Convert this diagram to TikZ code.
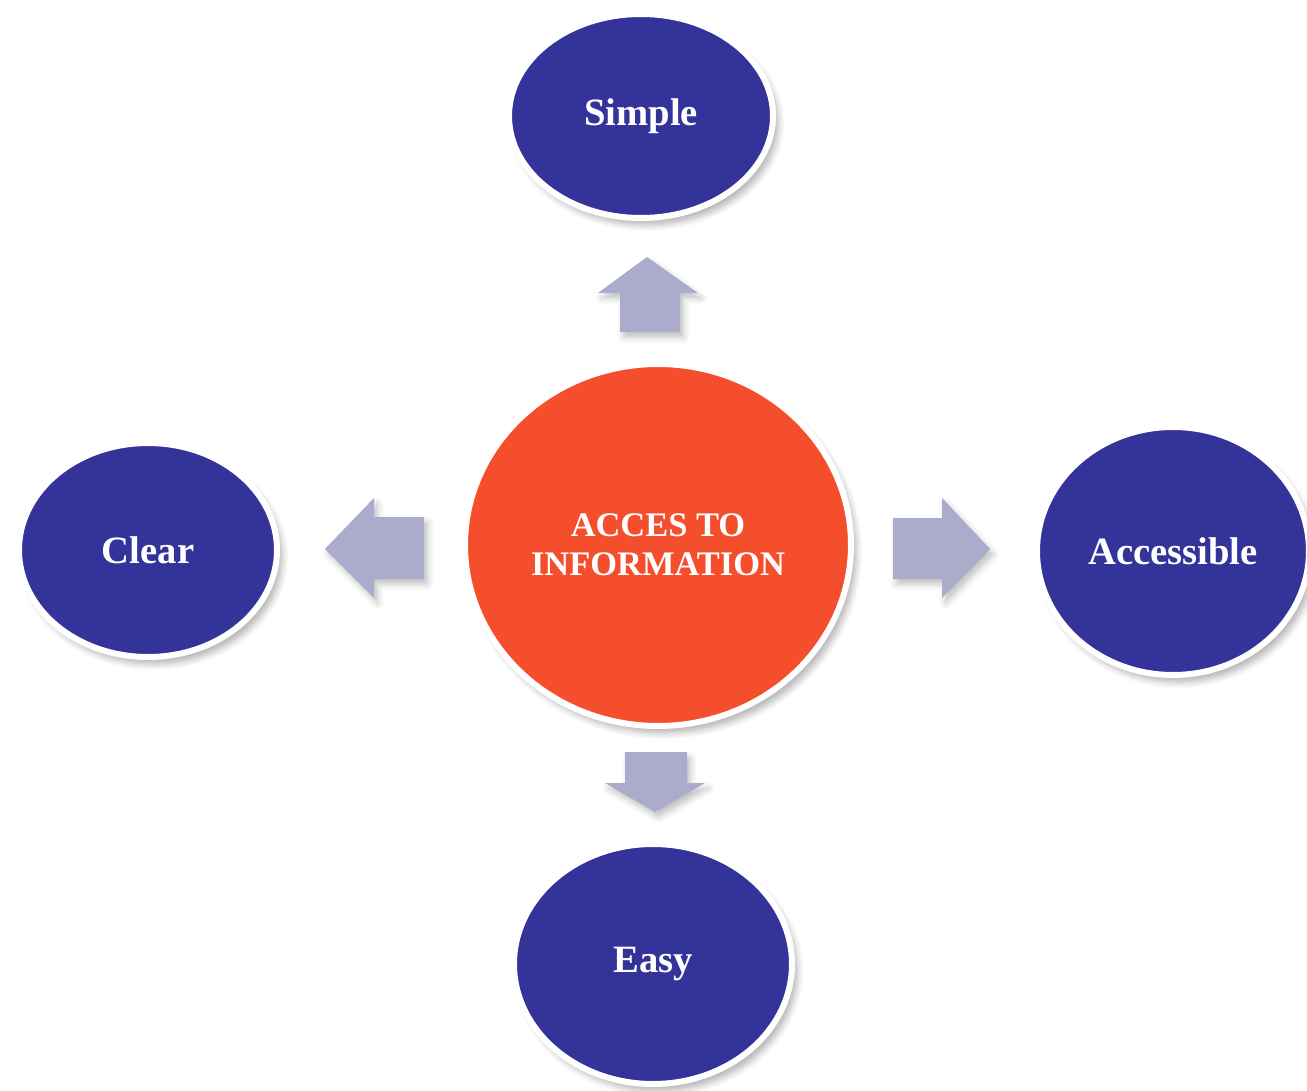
\documentclass[tikz,border=0pt]{standalone}
\usepackage{fontspec}
\setmainfont{Liberation Serif}
\usetikzlibrary{shapes.geometric,shadows.blur}

\definecolor{ovalblue}{HTML}{343399}
\definecolor{hubred}{HTML}{F44E2D}
\definecolor{arrowgrey}{HTML}{ABABCB}

\begin{document}
\begin{tikzpicture}
	\tikzstyle{oval}=[ellipse,inner sep=0pt,fill=ovalblue,draw=white,line width=0.06cm,
		text=white,font=\bfseries\fontsize{11}{13}\selectfont,
		blur shadow={shadow xshift=1.5pt,shadow yshift=-2pt,shadow blur steps=6,shadow opacity=30}]
	\tikzstyle{hub}=[oval,fill=hubred,align=center,font=\bfseries\fontsize{9.8}{11.2}\selectfont]
	\tikzstyle{blockarrow}=[fill=arrowgrey,
		blur shadow={shadow xshift=1pt,shadow yshift=-1.5pt,shadow blur steps=4,shadow opacity=25}]
	\useasboundingbox (0,0) rectangle (13.07,10.90);
	% centre and the four ovals
	\node[hub,minimum width=3.86cm,minimum height=3.62cm](info) at (6.58,5.45) {ACCES TO\\INFORMATION};
	\node[oval,minimum width=2.64cm,minimum height=2.04cm](simple) at (6.41,9.74) {Simple};
	\node[oval,minimum width=2.58cm,minimum height=2.14cm](clear) at (1.48,5.40) {Clear};
	\node[oval,minimum width=2.72cm,minimum height=2.48cm](accessible) at (11.73,5.39) {Accessible};
	\node[oval,minimum width=2.78cm,minimum height=2.40cm](easy) at (6.53,1.26) {Easy};
	% block arrows
	\path[blockarrow] (6.20,7.58) -- (6.20,7.97) -- (5.98,7.97) -- (6.47,8.33) -- (6.98,7.97) -- (6.80,7.97) -- (6.80,7.58) -- cycle;
	\path[blockarrow] (8.93,5.72) -- (9.42,5.72) -- (9.42,5.92) -- (9.90,5.41) -- (9.42,4.92) -- (9.42,5.11) -- (8.93,5.11) -- cycle;
	\path[blockarrow] (4.24,5.73) -- (3.74,5.73) -- (3.74,5.92) -- (3.25,5.41) -- (3.74,4.92) -- (3.74,5.11) -- (4.24,5.11) -- cycle;
	\path[blockarrow] (6.25,3.38) -- (6.87,3.38) -- (6.87,3.07) -- (7.05,3.07) -- (6.55,2.78) -- (6.05,3.07) -- (6.25,3.07) -- cycle;
\end{tikzpicture}
\end{document}
